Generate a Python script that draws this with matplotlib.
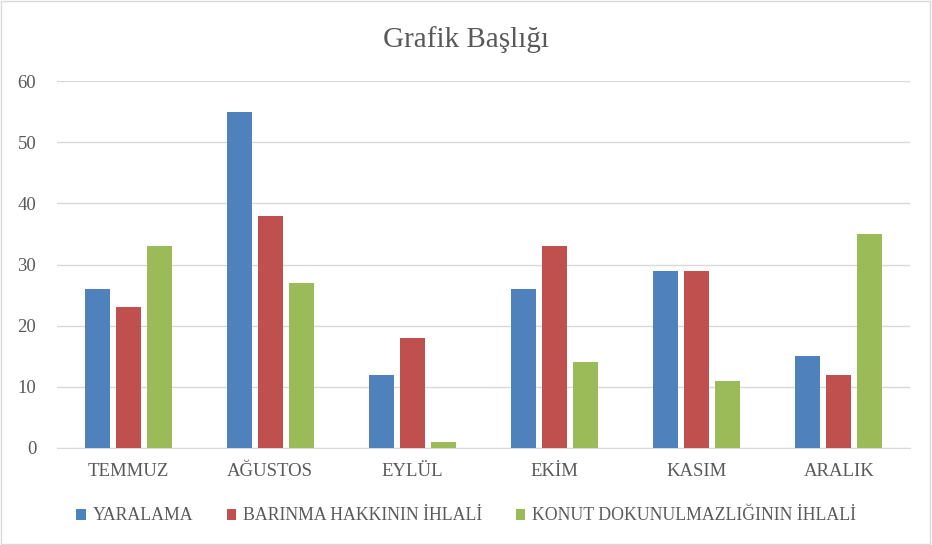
import numpy as np
import matplotlib.pyplot as plt

# Data
months = ["TEMMUZ", "AĞUSTOS", "EYLÜL", "EKİM", "KASIM", "ARALIK"]
yaralama = [26, 55, 12, 26, 29, 15]
barinma = [23, 38, 18, 33, 29, 12]
konut = [33, 27, 1, 14, 11, 35]
series_names = ["YARALAMA", "BARINMA HAKKININ İHLALİ", "KONUT DOKUNULMAZLIĞININ İHLALİ"]
colors = ["#4F81BD", "#C0504D", "#9BBB59"]

plt.rcParams['font.family'] = ['Liberation Serif', 'DejaVu Serif']
text_color = "#595959"

fig = plt.figure(figsize=(9.32, 5.45), dpi=100)
ax = fig.add_axes([57 / 932, 97 / 545, 853 / 932, 367 / 545])

x = np.arange(len(months))
width = 0.176
step = 0.218
for i, (vals, name, c) in enumerate(zip([yaralama, barinma, konut], series_names, colors)):
    ax.bar(x + (i - 1) * step, vals, width, color=c, label=name, zorder=3)

ax.set_xlim(-0.5, len(months) - 0.5)
ax.set_ylim(0, 60)
ax.set_yticks(range(0, 61, 10))
ax.set_xticks(x)
ax.set_xticklabels(months)
ax.grid(axis='y', color="#D9D9D9", linewidth=1, zorder=0)
for s in ["top", "right", "left"]:
    ax.spines[s].set_visible(False)
ax.spines["bottom"].set_color("#D9D9D9")
ax.tick_params(axis='both', length=0, colors=text_color, labelsize=13.5)
ax.tick_params(axis='x', pad=11)
ax.tick_params(axis='y', pad=15)

fig.text(0.5, 1 - 40 / 545, "Grafik Başlığı", ha='center', va='center',
         fontsize=21, color=text_color)

leg = fig.legend(loc='center', bbox_to_anchor=(0.5, 1 - 516 / 545), ncol=3,
                 frameon=False, fontsize=12.8, handlelength=0.55, handleheight=0.55,
                 handletextpad=0.35, columnspacing=1.9, labelcolor=text_color)

# light frame around the chart
fig.patches.append(plt.Rectangle((0.001, 0.001), 0.997, 0.997, transform=fig.transFigure,
                                 fill=False, edgecolor="#D9D9D9", linewidth=1))

fig.savefig("out.png", dpi=100)
